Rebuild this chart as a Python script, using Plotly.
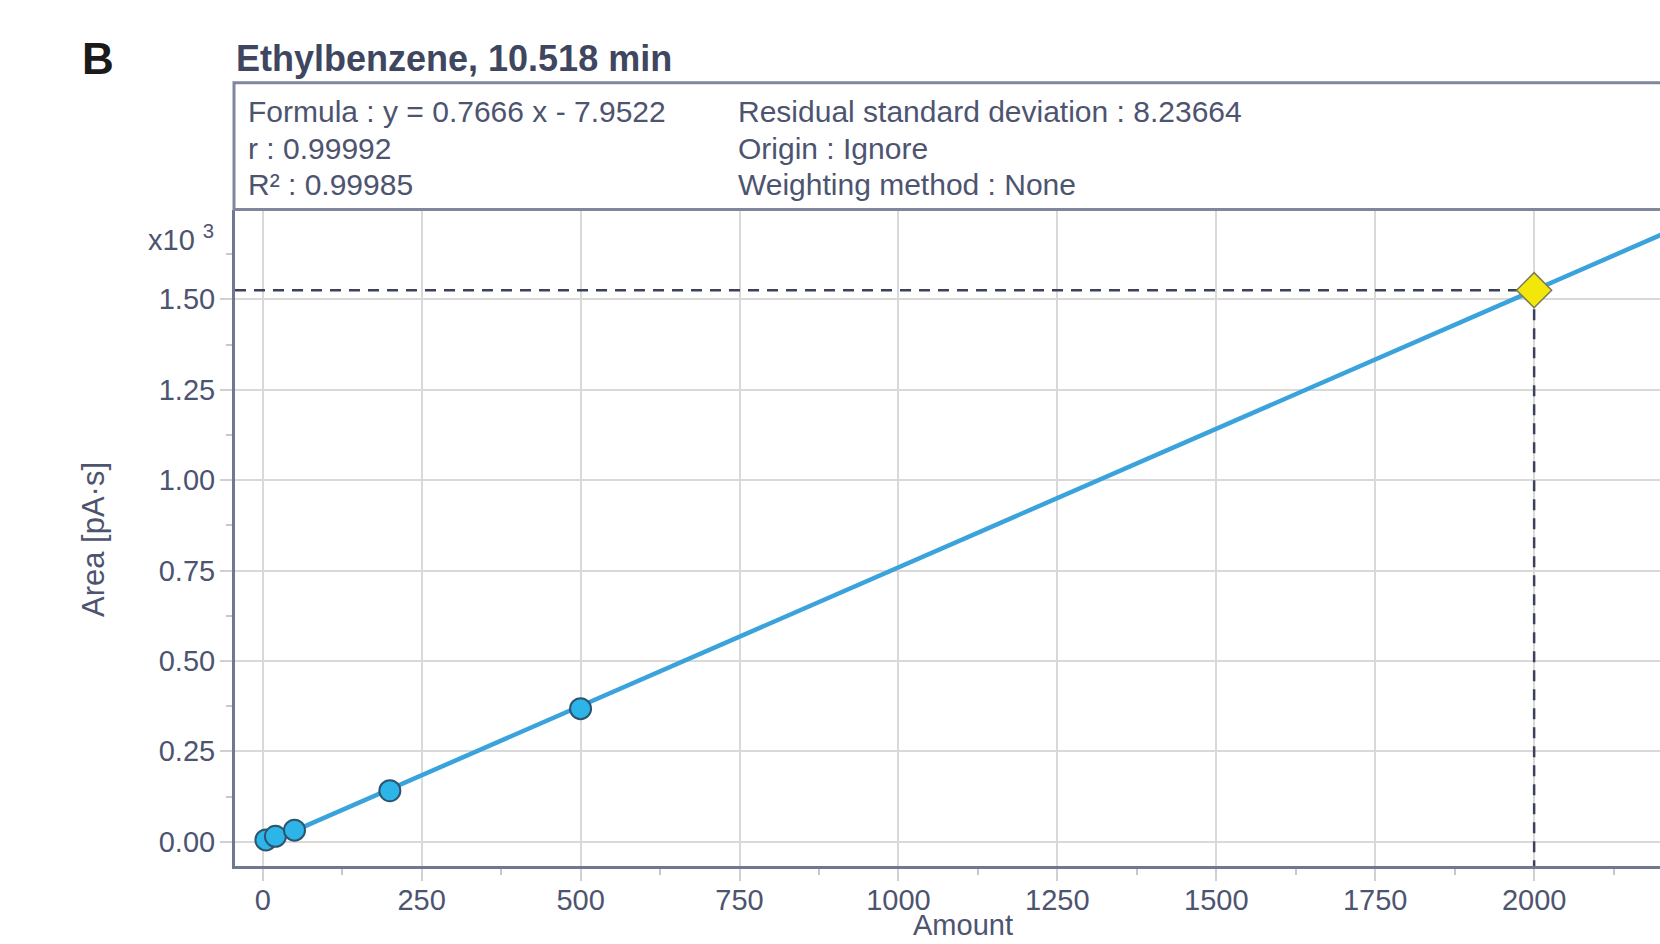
import plotly.graph_objects as go

# ---- data ----
cal_amount = [5, 20, 50, 200, 500]
cal_area = [5, 15, 32, 141, 368]
slope = 0.7666
intercept = -7.9522
sample_amount = [2000]
x_ticks = [0, 250, 500, 750, 1000, 1250, 1500, 1750, 2000]
x_ticktext = ["0", "250", "500", "750", "1000", "1250", "1500", "1750", "2000"]
y_ticks = [0, 250, 500, 750, 1000, 1250, 1500]
y_ticktext = ["0.00", "0.25", "0.50", "0.75", "1.00", "1.25", "1.50"]
info_left = ["Formula : y = 0.7666 x - 7.9522", "r : 0.99992", "R² : 0.99985"]
info_right = ["Residual standard deviation : 8.23664", "Origin : Ignore", "Weighting method : None"]

W, H = 1660, 944
L, R, T, B = 235, 1660, 210, 866
XR = [-43.6, 2198]
YR = [-67.2, 1747]

def fx(px):
    return (px - L) / (R - L)

def fy(py):
    return (B - py) / (B - T)

FONT = "Liberation Sans, Arial, sans-serif"
TXT = "#4d5470"

sample_area = [slope * a + intercept for a in sample_amount]
line_x = [0, XR[1] + 50]
line_y = [slope * v + intercept for v in line_x]

fig = go.Figure()

# dashed guide lines through the sample point
fig.add_trace(go.Scatter(
    x=[XR[0], sample_amount[0] + 27], y=[sample_area[0], sample_area[0]],
    mode="lines", line=dict(color="#3c4258", width=2.5, dash="11px,8px"),
    hoverinfo="skip", showlegend=False))
fig.add_trace(go.Scatter(
    x=[sample_amount[0], sample_amount[0]], y=[sample_area[0], YR[0]],
    mode="lines", line=dict(color="#3c4258", width=2.5, dash="11px,8px"),
    hoverinfo="skip", showlegend=False))

# calibration line
fig.add_trace(go.Scatter(
    x=line_x, y=line_y, mode="lines",
    line=dict(color="#3ba3dc", width=4.5), showlegend=False))

# calibration points
fig.add_trace(go.Scatter(
    x=cal_amount, y=cal_area, mode="markers",
    marker=dict(symbol="circle", size=21, color="#2db4e8",
                line=dict(color="#2e5570", width=2)),
    showlegend=False))

# sample point
fig.add_trace(go.Scatter(
    x=sample_amount, y=sample_area, mode="markers",
    marker=dict(symbol="diamond", size=27, color="#f2e60a",
                line=dict(color="#7a7a5a", width=1.5)),
    showlegend=False))

axis_common = dict(
    showgrid=True, gridcolor="#d9d9d9", gridwidth=2,
    showline=True, linecolor="#6f7890", linewidth=3,
    ticks="outside", ticklen=12, tickwidth=2, tickcolor="#d0d0d0",
    tickfont=dict(family=FONT, size=29, color=TXT),
    zeroline=False, tickmode="array",
)

fig.update_xaxes(
    range=XR, tickvals=x_ticks, ticktext=x_ticktext,
    minor=dict(tickmode="linear", tick0=125, dtick=250, ticks="outside",
               ticklen=6, tickwidth=2, tickcolor="#c8c8c8", showgrid=False),
    ticklabelstandoff=-6,
    **axis_common)
fig.update_yaxes(
    range=YR, tickvals=y_ticks, ticktext=y_ticktext,
    minor=dict(tickmode="linear", tick0=125, dtick=250, ticks="outside",
               ticklen=6, tickwidth=2, tickcolor="#c8c8c8", showgrid=False),
    ticklabelstandoff=-1,
    **axis_common)

annotations = []
# panel letter
annotations.append(dict(text="<b>B</b>", x=fx(97.5), y=fy(59), xref="paper", yref="paper",
                        showarrow=False, xanchor="center", yanchor="middle",
                        font=dict(family=FONT, size=44, color="#1a1a1a")))
# title
annotations.append(dict(text="<b>Ethylbenzene, 10.518 min</b>", x=fx(234), y=fy(58),
                        xref="paper", yref="paper", showarrow=False,
                        xanchor="left", yanchor="middle",
                        font=dict(family=FONT, size=36, color="#3e4660")))
# info box text
for i, t in enumerate(info_left):
    annotations.append(dict(text=t, x=fx(246), y=fy(112 + 36 * i), xref="paper", yref="paper",
                            showarrow=False, xanchor="left", yanchor="middle",
                            font=dict(family=FONT, size=30, color=TXT)))
for i, t in enumerate(info_right):
    annotations.append(dict(text=t, x=fx(736), y=fy(112 + 36 * i), xref="paper", yref="paper",
                            showarrow=False, xanchor="left", yanchor="middle",
                            font=dict(family=FONT, size=30, color=TXT)))
# y exponent
annotations.append(dict(text="x10 <sup>3</sup>", x=fx(216), y=fy(238), xref="paper", yref="paper",
                        showarrow=False, xanchor="right", yanchor="middle",
                        font=dict(family=FONT, size=29, color=TXT)))
# axis titles
annotations.append(dict(text="Area [pA·s]", x=fx(93), y=fy(540), xref="paper", yref="paper",
                        showarrow=False, textangle=-90, xanchor="center", yanchor="middle",
                        font=dict(family=FONT, size=31, color=TXT)))
annotations.append(dict(text="Amount", x=fx(963), y=fy(925), xref="paper", yref="paper",
                        showarrow=False, xanchor="center", yanchor="middle",
                        font=dict(family=FONT, size=29, color=TXT)))

shapes = [dict(type="rect", xref="paper", yref="paper",
               x0=fx(234), x1=1.02, y0=fy(209.5), y1=fy(82.7),
               line=dict(color="#7f879c", width=3), fillcolor="rgba(0,0,0,0)", layer="above")]

fig.update_layout(
    width=W, height=H,
    margin=dict(l=L, r=W - R, t=T, b=H - B),
    paper_bgcolor="white", plot_bgcolor="white",
    annotations=annotations, shapes=shapes,
    showlegend=False,
)

fig.write_html("out.html")
